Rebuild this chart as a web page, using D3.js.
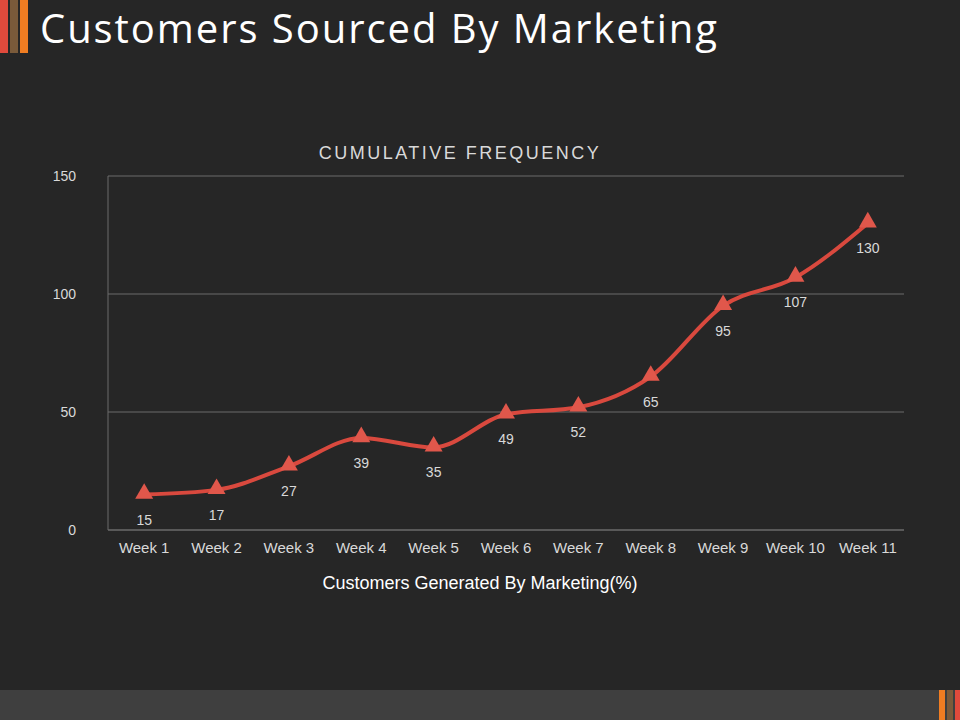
<!DOCTYPE html>
<html>
<head>
<meta charset="utf-8">
<script src="https://cdn.jsdelivr.net/npm/d3@7"></script>
<style>
  body { margin: 0; background: #262626; }
  svg { display: block; }
</style>
</head>
<body>
<div id="chart"></div>
<script>
var weeks = ["Week 1", "Week 2", "Week 3", "Week 4", "Week 5", "Week 6", "Week 7", "Week 8", "Week 9", "Week 10", "Week 11"];
var customers = [15, 17, 27, 39, 35, 49, 52, 65, 95, 107, 130];
var yTicks = [0, 50, 100, 150];

var svgWidth = 960, svgHeight = 720;
var margin = { top: 176, right: 56, bottom: 190, left: 108 };
var width = svgWidth - margin.left - margin.right;
var height = svgHeight - margin.top - margin.bottom;

var svg = d3.select("#chart").append("svg")
  .attr("width", svgWidth)
  .attr("height", svgHeight);

svg.append("rect").attr("width", svgWidth).attr("height", svgHeight).attr("fill", "#262626");

// accent bars
[["#e04a3c", 0], ["#7a5a3a", 10], ["#f07d22", 20]].forEach(function(b) {
  svg.append("rect").attr("x", b[1]).attr("y", 0).attr("width", 8).attr("height", 53).attr("fill", b[0]);
});
svg.append("rect").attr("x", 0).attr("y", 690).attr("width", svgWidth).attr("height", 30).attr("fill", "#3f3f3f");
[["#f07d22", 939], ["#7a5a3a", 947], ["#e04a3c", 955]].forEach(function(b) {
  svg.append("rect").attr("x", b[1]).attr("y", 690).attr("width", 6).attr("height", 30).attr("fill", b[0]);
});

svg.append("text")
  .attr("x", 40).attr("y", 43)
  .attr("fill", "#ffffff")
  .attr("font-family", "'Open Sans', sans-serif")
  .attr("font-size", "40px")
  .attr("textLength", 677)
  .attr("lengthAdjust", "spacing")
  .text("Customers Sourced By Marketing");

svg.append("text")
  .attr("x", 460).attr("y", 159)
  .attr("text-anchor", "middle")
  .attr("fill", "#d9d9d9")
  .attr("font-family", "Arial, 'Liberation Sans', sans-serif")
  .attr("font-size", "18px")
  .attr("letter-spacing", "2.5px")
  .text("CUMULATIVE FREQUENCY");

var chartGroup = svg.append("g")
  .attr("transform", `translate(${margin.left}, ${margin.top})`);

var x = d3.scaleBand().domain(weeks).range([0, width]);
var y = d3.scaleLinear().domain([0, 150]).range([height, 0]);

// gridlines
chartGroup.selectAll(".grid").data(yTicks).enter().append("line")
  .attr("x1", 0).attr("x2", width)
  .attr("y1", d => y(d)).attr("y2", d => y(d))
  .attr("stroke", d => d === 0 ? "#8c8c8c" : "#6b6b6b")
  .attr("stroke-width", 1);
chartGroup.append("line").attr("x1", 0).attr("x2", 0).attr("y1", 0).attr("y2", height)
  .attr("stroke", "#6b6b6b");

var leftAxis = d3.axisLeft(y).tickValues(yTicks).tickSize(0).tickPadding(32);
var gy = chartGroup.append("g").call(leftAxis);
gy.select(".domain").remove();
gy.selectAll("text").attr("fill", "#d9d9d9").attr("font-size", "14px")
  .attr("font-family", "Arial, 'Liberation Sans', sans-serif");

var bottomAxis = d3.axisBottom(x).tickSize(0).tickPadding(12);
var gx = chartGroup.append("g").attr("transform", `translate(0, ${height})`).call(bottomAxis);
gx.select(".domain").remove();
gx.selectAll("text").attr("fill", "#d9d9d9").attr("font-size", "15px")
  .attr("font-family", "Arial, 'Liberation Sans', sans-serif");

var line = d3.line()
  .x((d, i) => x(weeks[i]) + x.bandwidth() / 2)
  .y(d => y(d))
  .curve(d3.curveMonotoneX);

chartGroup.append("path")
  .datum(customers)
  .attr("d", line)
  .attr("fill", "none")
  .attr("stroke", "#d9493e")
  .attr("stroke-width", 4);

chartGroup.selectAll(".marker").data(customers).enter().append("path")
  .attr("d", d3.symbol().type(d3.symbolTriangle).size(140))
  .attr("transform", (d, i) => `translate(${x(weeks[i]) + x.bandwidth() / 2}, ${y(d) - 1})`)
  .attr("fill", "#e0574b");

chartGroup.selectAll(".label").data(customers).enter().append("text")
  .attr("x", (d, i) => x(weeks[i]) + x.bandwidth() / 2)
  .attr("y", d => y(d) + 30)
  .attr("text-anchor", "middle")
  .attr("fill", "#d9d9d9")
  .attr("font-size", "14px")
  .attr("font-family", "Arial, 'Liberation Sans', sans-serif")
  .text(d => d);

svg.append("text")
  .attr("x", 480).attr("y", 589)
  .attr("text-anchor", "middle")
  .attr("fill", "#ffffff")
  .attr("font-size", "18px")
  .attr("font-family", "Arial, 'Liberation Sans', sans-serif")
  .text("Customers Generated By Marketing(%)");
</script>
</body>
</html>
